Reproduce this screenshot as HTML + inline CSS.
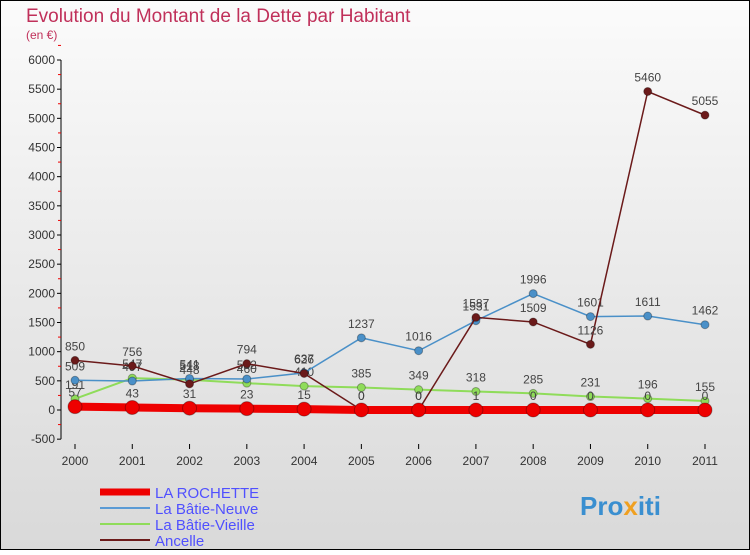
<!DOCTYPE html>
<html><head><meta charset="utf-8"><style>
body{margin:0;width:750px;height:550px;overflow:hidden;font-family:"Liberation Sans",sans-serif}
</style></head><body>
<svg width="750" height="550" xmlns="http://www.w3.org/2000/svg">
<defs><linearGradient id="bg" x1="0" y1="0" x2="0" y2="1"><stop offset="0" stop-color="#fbfbfb"/><stop offset="1" stop-color="#d9d9d9"/></linearGradient></defs>
<rect x="0.5" y="0.5" width="749" height="549" fill="url(#bg)" stroke="#000"/>
<text x="26" y="22" font-size="19" fill="#c0305a">Evolution du Montant de la Dette par Habitant</text>
<text x="26" y="39" font-size="12" fill="#c0305a">(en €)</text>
<g id="axes"></g><g id="series"></g>
<g>
<line x1="100" y1="492" x2="150" y2="492" stroke="#e00" stroke-width="7"/>
<text x="155" y="498" font-size="15" fill="#5050ff">LA ROCHETTE</text>
<line x1="100" y1="508" x2="150" y2="508" stroke="#5b9bd5" stroke-width="2"/>
<text x="155" y="514" font-size="15" fill="#5050ff">La Bâtie-Neuve</text>
<line x1="100" y1="524" x2="150" y2="524" stroke="#8fdc5a" stroke-width="2"/>
<text x="155" y="530" font-size="15" fill="#5050ff">La Bâtie-Vieille</text>
<line x1="100" y1="540" x2="150" y2="540" stroke="#6b1a1a" stroke-width="2"/>
<text x="155" y="546" font-size="15" fill="#5050ff">Ancelle</text>
</g>
<text x="580" y="515" font-size="26" font-weight="bold" fill="#3a8fd0">Pro<tspan fill="#f0a020">x</tspan>iti</text>
</svg>
<script>
const years=["2000","2001","2002","2003","2004","2005","2006","2007","2008","2009","2010","2011"];
const yTicks=[-500,0,500,1000,1500,2000,2500,3000,3500,4000,4500,5000,5500,6000];
const rochette=[57,43,31,23,15,0,0,1,0,0,0,0];
const batieNeuve=[509,497,541,532,637,1237,1016,1531,1996,1601,1611,1462];
const batieVieille=[191,547,518,460,410,385,349,318,285,231,196,155];
const ancelle=[850,756,448,794,626,0,0,1587,1509,1126,5460,5055];
const NS="http://www.w3.org/2000/svg";
const X=i=>75+i*(630/11);
const Y=v=>410-v*(350/6000);
function mk(t,a,p){const e=document.createElementNS(NS,t);for(const k in a)e.setAttribute(k,a[k]);p.appendChild(e);return e;}
const ax=document.getElementById('axes');
const yl=mk('line',{x1:61,y1:Y(6000),x2:61,y2:Y(-500),stroke:'#000'},ax);


yTicks.forEach(v=>{
 mk('line',{x1:57,y1:Y(v),x2:61,y2:Y(v),stroke:'#000'},ax);
 mk('line',{x1:58,y1:Y(v+250),x2:61,y2:Y(v+250),stroke:'#e00'},ax);
 const t=mk('text',{x:55,y:Y(v)+4,'font-size':12,'text-anchor':'end',fill:'#333'},ax);t.textContent=v;
 
 
});
years.forEach((y,i)=>{
 mk('line',{x1:X(i),y1:444,x2:X(i),y2:449,stroke:'#000'},ax);
 const t=mk('text',{x:X(i),y:465,'font-size':12,'text-anchor':'middle',fill:'#333'},ax);t.textContent=y;
 
 
});
const sg=document.getElementById('series');
function series(d,name,col,w,r,lab){
 const g=mk('g',{},sg);
 
 
 mk('polyline',{points:d.map((v,i)=>X(i)+','+Y(v)).join(' '),fill:'none',stroke:col,'stroke-width':w},g);
 d.forEach((v,i)=>{
  const c=mk('circle',{cx:X(i),cy:Y(v),r:r,fill:col,stroke:'rgba(0,0,0,0.3)'},g);
  
  
  if(lab){const t=mk('text',{x:X(i),y:Y(v)-10,'font-size':12,'text-anchor':'middle',fill:'#444'},g);t.textContent=v;}
 });
}
series(batieVieille,'series-batie-vieille','#8fdc5a',2,4,true);
series(batieNeuve,'series-batie-neuve','#4a90c8',1.5,4,true);
series(ancelle,'series-ancelle','#6b1a1a',1.5,4,true);
series(rochette,'series-la-rochette','#ee0000',8,7,true);
</script>
</body></html>
